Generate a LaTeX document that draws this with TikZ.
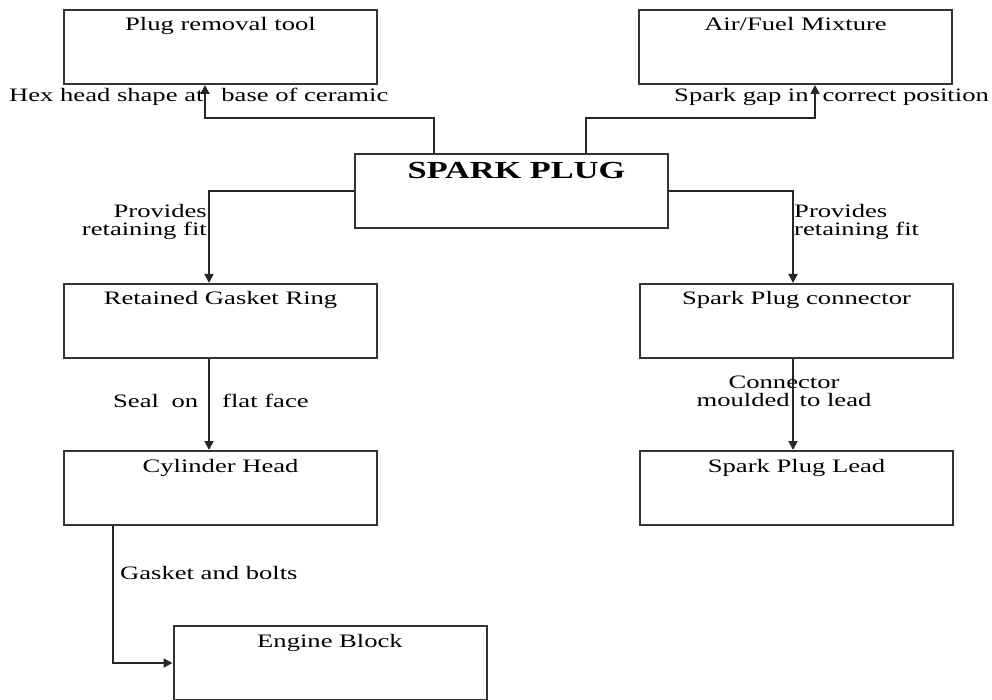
\documentclass[tikz,border=0pt]{standalone}
\usepackage{fontspec}
\setmainfont{Liberation Serif}[FakeStretch=1.4]
\usetikzlibrary{arrows.meta}
\begin{document}
\begin{tikzpicture}[x=1pt,y=-1pt,
  box/.style={draw=black!80, line width=2pt, minimum width=313pt, inner sep=0pt,
    text height=21pt, text depth=53pt, font=\fontsize{19}{18}\selectfont},
  bigbox/.style={box, text height=25pt, text depth=49pt, font=\fontsize{24.5}{26}\selectfont\bfseries},
  conn/.style={draw=black!85, line width=1.8pt},
  arr/.style={conn, -{Triangle[length=9pt,width=9pt]}},
  lbl/.style={inner sep=0pt, font=\fontsize{19}{18}\selectfont}]
\useasboundingbox (0,0) rectangle (992,700);
% boxes
\node[box, anchor=north] (pr) at (220.5,9) {Plug removal tool};
\node[box, anchor=north] (af) at (795.5,9) {Air/Fuel Mixture};
\node[bigbox, anchor=north] (sp) at (511.5,153) {\hspace{10pt}SPARK PLUG};
\node[box, anchor=north] (rg) at (220.5,283) {Retained Gasket Ring};
\node[box, anchor=north] (sc) at (796.5,283) {Spark Plug connector};
\node[box, anchor=north] (ch) at (220.5,450) {Cylinder Head};
\node[box, anchor=north] (sl) at (796.5,450) {Spark Plug Lead};
\node[box, anchor=north] (eb) at (330,625) {Engine Block};
% column / row helpers
\coordinate (xa) at (434,0);
\coordinate (xb) at (205,0);
\coordinate (xf) at (586,0);
\coordinate (xg) at (815,0);
\coordinate (ya) at (0,118);
\coordinate (xc) at (209,0);
\coordinate (xd) at (793,0);
\coordinate (xe) at (113,0);
% connectors
\draw[arr] (sp.north -| xa) |- (ya -| xb) -- (pr.south -| xb);
\draw[arr] (sp.north -| xf) |- (ya -| xg) -- (af.south -| xg);
\draw[arr] (sp.west) -| (rg.north -| xc);
\draw[arr] (sp.east) -| (sc.north -| xd);
\draw[arr] (rg.south -| xc) -- (ch.north -| xc);
\draw[arr] (sc.south -| xd) -- (sl.north -| xd);
\draw[arr] (ch.south -| xe) |- (eb.west);
% labels
\node[lbl, anchor=base west] (l1) at (9,102) {Hex head shape at\hspace{18pt}base of ceramic};
\node[lbl, anchor=base west] (l2) at (674,102) {Spark gap in\hspace{14pt}correct position};
\node[lbl, align=right, anchor=east] (l3) at (207,221.5) {Provides\\retaining fit};
\node[lbl, align=left, anchor=west] (l4) at (794,221.5) {Provides\\retaining fit};
\node[lbl, anchor=base west] (l5) at (113,407) {Seal\hspace{6pt} on\hspace{24pt}flat face};
\node[lbl, align=center] (l6) at (784,391) {Connector\\moulded\hspace{10pt}to lead};
\node[lbl, anchor=base west] (l7) at (120,579) {Gasket and bolts};
\end{tikzpicture}
\end{document}
